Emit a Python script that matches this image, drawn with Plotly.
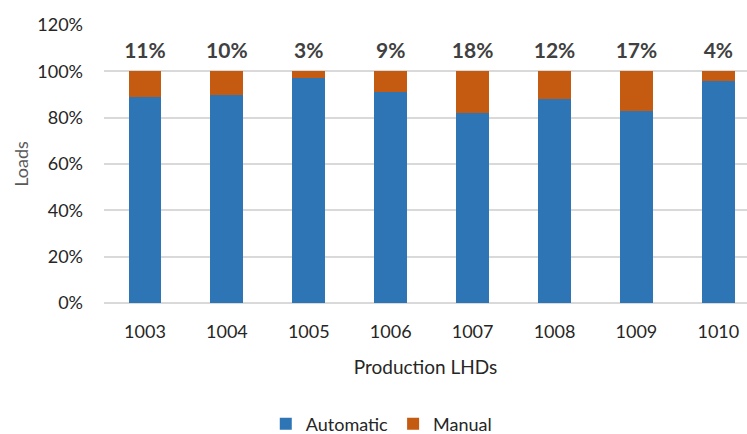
import plotly.graph_objects as go

lhds = ["1003", "1004", "1005", "1006", "1007", "1008", "1009", "1010"]
manual = [11, 10, 3, 9, 18, 12, 17, 4]
automatic = [100 - m for m in manual]

blue = "#2E75B6"
orange = "#C55A11"
font_family = "Lato, 'Open Sans', sans-serif"

fig = go.Figure()
fig.add_trace(go.Bar(x=lhds, y=automatic, name="Automatic", marker_color=blue,
                     marker_line_width=0))
fig.add_trace(go.Bar(x=lhds, y=manual, name="Manual", marker_color=orange,
                     marker_line_width=0))

# Manual share labels above each stacked bar
fig.add_trace(go.Scatter(
    x=lhds, y=[108] * len(lhds), mode="text",
    text=[f"<b>{m}%</b>" for m in manual],
    textfont=dict(size=21, color="#404040", family=font_family),
    showlegend=False, hoverinfo="skip", cliponaxis=False,
))

fig.update_layout(
    barmode="stack",
    bargap=0.6,
    width=747, height=434,
    margin=dict(l=104, r=0, t=25, b=131, autoexpand=False),
    plot_bgcolor="white", paper_bgcolor="white",
    font=dict(family=font_family, size=18, color="#262626"),
    legend=dict(orientation="h", x=0.432, xanchor="center", y=-0.435, yanchor="middle",
                font=dict(size=18, color="#262626"), itemwidth=30,
                traceorder="normal"),
    xaxis=dict(
        type="category", range=[-0.5, 7.35], automargin=False,
        showline=False, ticks="", tickfont=dict(size=18, color="#262626"),
        ticklabelstandoff=16,
        title=dict(text="Production LHDs", font=dict(size=19, color="#262626"),
                   standoff=19),
    ),
    yaxis=dict(
        range=[0, 120], dtick=20, ticksuffix="%", automargin=False,
        showgrid=True, gridcolor="#D9D9D9", gridwidth=1.5,
        zeroline=True, zerolinecolor="#D9D9D9", zerolinewidth=1.5,
        tickfont=dict(size=18, color="#262626"),
        ticklabelstandoff=20,
        title=dict(text="Loads", font=dict(size=18, color="#595959"), standoff=3),
    ),
)

fig.write_html("out.html")
